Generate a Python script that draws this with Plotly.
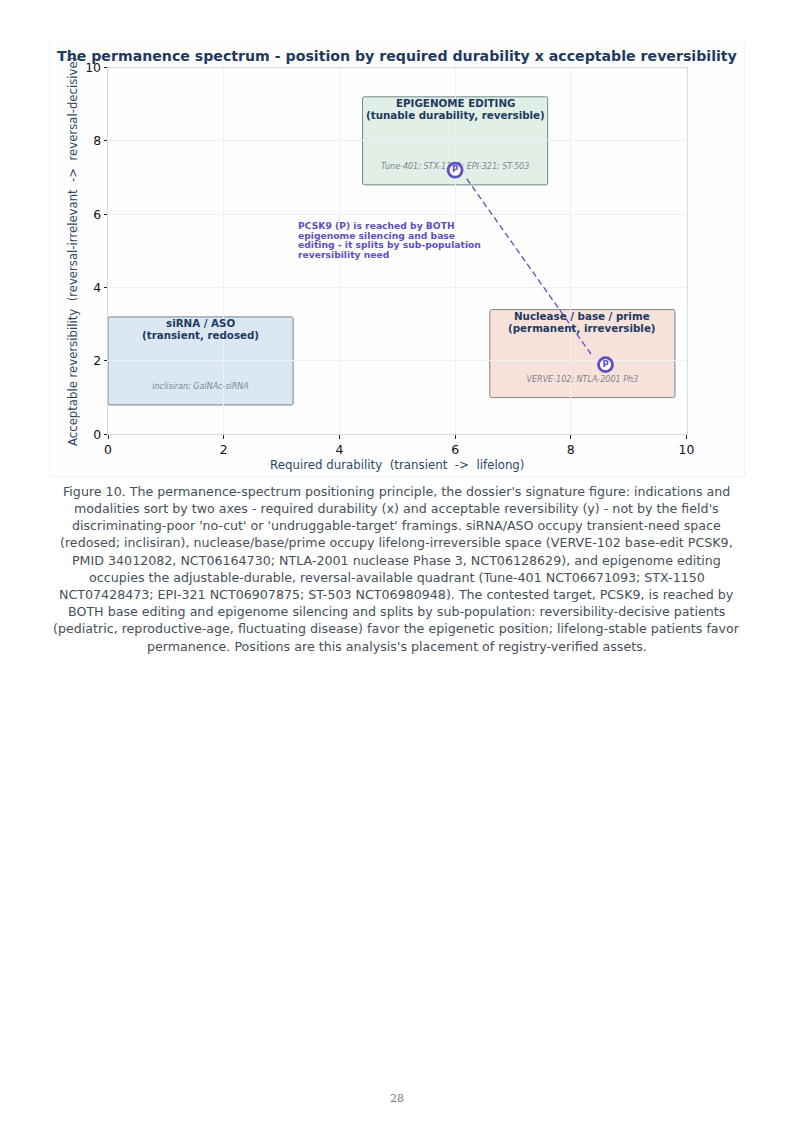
import plotly.graph_objects as go

W, H = 794, 1123
box_names = [["siRNA / ASO", "(transient, redosed)"],
             ["EPIGENOME EDITING", "(tunable durability, reversible)"],
             ["Nuclease / base / prime", "(permanent, irreversible)"]]
box_assets = ["inclisiran; GalNAc-siRNA", "Tune-401; STX-1150; EPI-321; ST-503", "VERVE-102; NTLA-2001 Ph3"]
box_x0 = [0.0, 4.4, 6.6]
box_x1 = [3.2, 7.6, 9.8]
box_y0 = [0.8, 6.8, 1.0]
box_y1 = [3.2, 9.2, 3.4]
box_fill = ["rgba(190,214,235,0.55)", "rgba(200,225,212,0.55)", "rgba(238,200,190,0.55)"]
box_line = ["#71828f", "#71858a", "#85817f"]
asset_y = [1.28, 7.28, 1.47]
p_x = [6.0, 8.6]
p_y = [7.2, 1.9]
link_x = [6.2, 8.38]
link_y = [6.97, 2.12]
x_ticks = [0, 2, 4, 6, 8, 10]
y_ticks = [0, 2, 4, 6, 8, 10]
PURPLE = "#5f4fc0"
NAVY = "#1e3a5f"
AXIS_TITLE = "#2f4766"

caption = ["Figure 10. The permanence-spectrum positioning principle, the dossier's signature figure: indications and",
           "modalities sort by two axes - required durability (x) and acceptable reversibility (y) - not by the field's",
           "discriminating-poor 'no-cut' or 'undruggable-target' framings. siRNA/ASO occupy transient-need space",
           "(redosed; inclisiran), nuclease/base/prime occupy lifelong-irreversible space (VERVE-102 base-edit PCSK9,",
           "PMID 34012082, NCT06164730; NTLA-2001 nuclease Phase 3, NCT06128629), and epigenome editing",
           "occupies the adjustable-durable, reversal-available quadrant (Tune-401 NCT06671093; STX-1150",
           "NCT07428473; EPI-321 NCT06907875; ST-503 NCT06980948). The contested target, PCSK9, is reached by",
           "BOTH base editing and epigenome silencing and splits by sub-population: reversibility-decisive patients",
           "(pediatric, reproductive-age, fluctuating disease) favor the epigenetic position; lifelong-stable patients favor",
           "permanence. Positions are this analysis's placement of registry-verified assets."]
note = ["PCSK9 (P) is reached by BOTH", "epigenome silencing and base",
        "editing - it splits by sub-population", "reversibility need"]

FONT = "DejaVu Sans"


def rounded(x0, x1, y0, y1, rx=0.035, ry=0.055):
    return (f"M{x0+rx},{y0} L{x1-rx},{y0} Q{x1},{y0} {x1},{y0+ry} L{x1},{y1-ry} Q{x1},{y1} {x1-rx},{y1} "
            f"L{x0+rx},{y1} Q{x0},{y1} {x0},{y1-ry} L{x0},{y0+ry} Q{x0},{y0} {x0+rx},{y0} Z")


def paper(text, px, py, size, color, **kw):
    return dict(x=px/W, y=1-py/H, xref="paper", yref="paper", text=text, showarrow=False,
                xanchor=kw.pop("xanchor", "center"), yanchor=kw.pop("yanchor", "middle"),
                font=dict(family=kw.pop("family", FONT), size=size, color=color), **kw)


fig = go.Figure()
shapes, ann = [], []
shapes.append(dict(type="rect", xref="paper", yref="paper", x0=49.5/W, x1=744.5/W, y0=1-477/H, y1=1-42/H,
                   line=dict(color="#f3f3f3", width=1), fillcolor="#fefefe", layer="below"))
for i in range(3):
    shapes.append(dict(type="path", path=rounded(box_x0[i], box_x1[i], box_y0[i], box_y1[i]),
                       fillcolor=box_fill[i], line=dict(color=box_line[i], width=1), layer="below"))
    for j, line in enumerate(box_names[i]):
        ann.append(dict(x=(box_x0[i]+box_x1[i])/2, y=box_y1[i], yshift=-(6 + 12*j), xref="x", yref="y",
                        text="<b>%s</b>" % line, showarrow=False, yanchor="middle", xanchor="center",
                        font=dict(family=FONT, size=10.3, color=NAVY)))
fig.add_trace(go.Scatter(x=[(a+b)/2 for a, b in zip(box_x0, box_x1)], y=asset_y, mode="text",
                         text=["<i>%s</i>" % s for s in box_assets], textposition="middle center",
                         textfont=dict(family=FONT, size=8, color="#7c8790"), hoverinfo="skip", showlegend=False))
fig.add_trace(go.Scatter(x=link_x, y=link_y, mode="lines", line=dict(color=PURPLE, width=1.3, dash="6px,3.5px"),
                         hoverinfo="skip", showlegend=False))
fig.add_trace(go.Scatter(x=p_x, y=p_y, mode="markers+text", text=["<b>P</b>"]*2, textposition="middle center",
                         textfont=dict(family=FONT, size=8.5, color=PURPLE),
                         marker=dict(size=14, color="white", line=dict(color=PURPLE, width=2.8)),
                         hoverinfo="skip", showlegend=False))
for i, line in enumerate(note):
    ann.append(paper("<b>%s</b>" % line, 296, 225.7 + i*9.6, 9.2, PURPLE, xanchor="left"))
ann.append(paper("<b>The permanence spectrum - position by required durability x acceptable reversibility</b>",
                 397, 55.5, 14.15, NAVY))
ann.append(paper("Required durability  (transient  ->  lifelong)", 397, 464.5, 11.8, AXIS_TITLE))
ann.append(paper("Acceptable reversibility  (reversal-irrelevant  ->  reversal-decisive)", 73, 252, 11.7, AXIS_TITLE,
                 textangle=-90))
for i, line in enumerate(caption):
    ann.append(paper(line, 396.5, 491.2 + i*17.2, 12.65, "#46505a"))
ann.append(paper("28", 396.5, 1098, 11, "#7a7a7a", family="DejaVu Serif"))

axis = dict(range=[0, 10], tickvals=x_ticks, showgrid=True, gridcolor="#eef0f2", gridwidth=1, showline=True,
            linecolor="#d8dbde", linewidth=1, mirror=True, zeroline=False, ticks="outside", ticklen=3.5, tickwidth=1,
            tickcolor="#222222", tickfont=dict(family=FONT, size=12.4, color="#111111"))
fig.update_layout(width=W, height=H, paper_bgcolor="white", plot_bgcolor="white", showlegend=False,
                  margin=dict(l=0, r=0, t=0, b=0, autoexpand=False), shapes=shapes, annotations=ann,
                  xaxis=dict(axis, domain=[108/W, 686.5/W]),
                  yaxis=dict(axis, tickvals=y_ticks, domain=[1-434.3/H, 1-67.5/H]))
fig.write_html("out.html", config=dict(displayModeBar=False), post_script="document.body.style.margin='0';")
